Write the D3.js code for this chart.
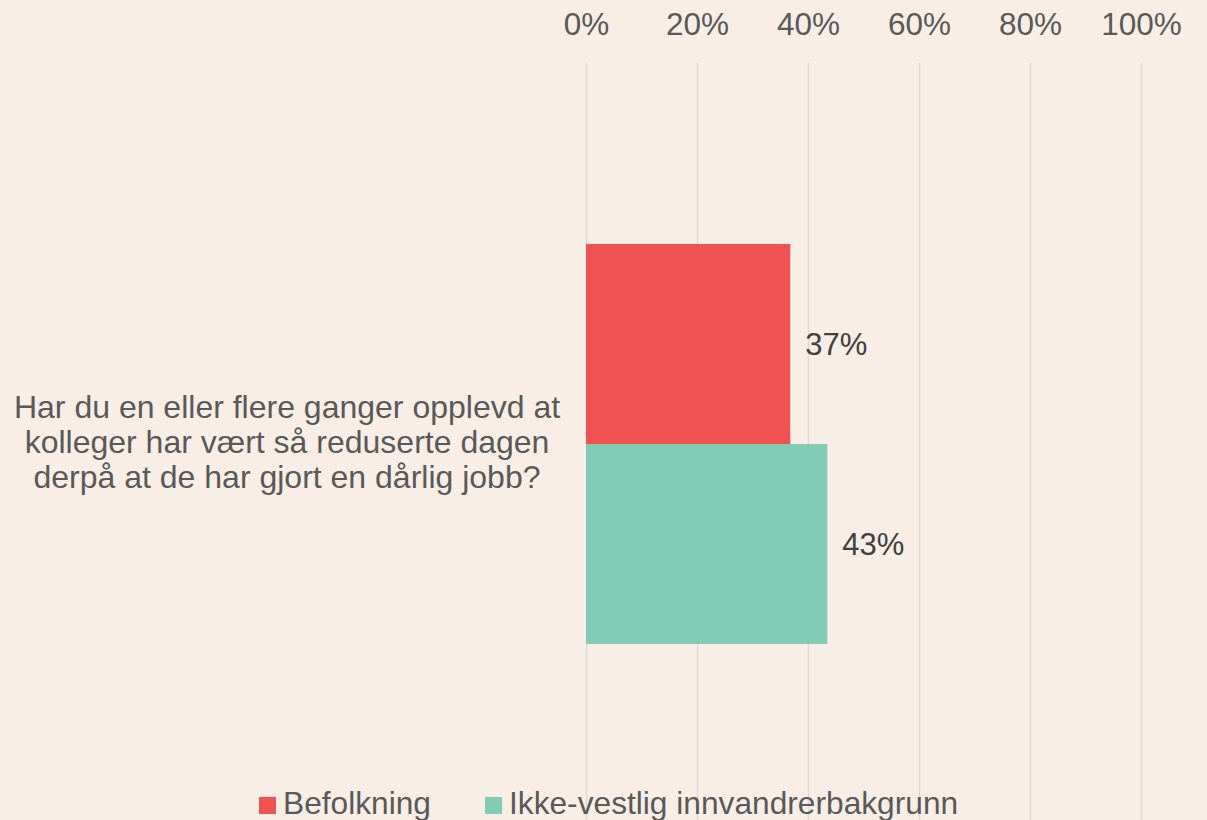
<!DOCTYPE html>
<html>
<head>
<meta charset="utf-8">
<script src="https://cdn.jsdelivr.net/npm/d3@7"></script>
<style>
  html, body { margin: 0; padding: 0; background: #f9eee6; }
  svg { display: block; font-family: "Liberation Sans", Arial, sans-serif; }
</style>
</head>
<body>
<svg id="chart" width="1207" height="820"></svg>
<script>
var categories = ['Har du en eller flere ganger opplevd at kolleger har vært så reduserte dagen derpå at de har gjort en dårlig jobb?'];
var categoryLines = [['Har du en eller flere ganger opplevd at', 'kolleger har vært så reduserte dagen', 'derpå at de har gjort en dårlig jobb?']];
var seriesNames = ['Befolkning', 'Ikke-vestlig innvandrerbakgrunn'];
var befolkning = [0.368];
var ikkeVestlig = [0.4349];
var tickValues = [0, 0.2, 0.4, 0.6, 0.8, 1];
var colors = ['#f05252', '#82ccb5'];

var svg = d3.select('#chart');
var width = 1207, height = 820;
var plotLeft = 586, plotRight = 1141, plotTop = 63, plotBottom = 825;

var x = d3.scaleLinear().domain([0, 1]).range([plotLeft, plotRight]);
var y0 = d3.scaleBand().domain(categories).range([plotTop, plotBottom]).paddingInner(0).paddingOuter(0.4525);
var y1 = d3.scaleBand().domain(seriesNames).range([0, y0.bandwidth()]);

svg.append('rect').attr('width', width).attr('height', height).attr('fill', '#f9eee6');

// gridlines
var grid = svg.append('g').attr('transform', 'translate(0,' + plotTop + ')')
  .call(d3.axisBottom(x).tickValues(tickValues).tickSize(height - plotTop).tickFormat(''));
grid.select('.domain').remove();
grid.selectAll('line').attr('stroke', '#d9d9d9').attr('stroke-width', 1.5);

// tick labels on top
var axis = svg.append('g').attr('transform', 'translate(0,' + plotTop + ')')
  .call(d3.axisTop(x).tickValues(tickValues).tickSize(0).tickPadding(28).tickFormat(d3.format('.0%')));
axis.select('.domain').remove();
axis.selectAll('text').attr('fill', '#595959').style('font-size', '31.5px').style('font-family', '"Liberation Sans", Arial, sans-serif');

var rows = categories.map(function(c, i) {
  return [{ cat: c, key: seriesNames[0], value: befolkning[i], color: colors[0] },
          { cat: c, key: seriesNames[1], value: ikkeVestlig[i], color: colors[1] }];
});

var groups = svg.selectAll('.cat').data(rows).enter().append('g')
  .attr('class', 'cat')
  .attr('transform', function(d) { return 'translate(0,' + y0(d[0].cat) + ')'; });

groups.selectAll('rect').data(function(d) { return d; }).enter().append('rect')
  .attr('x', x(0))
  .attr('y', function(d) { return y1(d.key); })
  .attr('width', function(d) { return x(d.value) - x(0); })
  .attr('height', y1.bandwidth())
  .attr('fill', function(d) { return d.color; });

groups.selectAll('.lbl').data(function(d) { return d; }).enter().append('text')
  .attr('class', 'lbl')
  .attr('x', function(d) { return x(d.value) + 15; })
  .attr('y', function(d) { return y1(d.key) + y1.bandwidth() / 2; })
  .attr('dy', '0.35em')
  .attr('fill', '#404040')
  .style('font-size', '31px')
  .text(function(d) { return d3.format('.0%')(d.value); });

// category label
categories.forEach(function(c, i) {
  var mid = y0(c) + y0.bandwidth() / 2;
  var lines = categoryLines[i];
  var t = svg.append('text').attr('text-anchor', 'middle').attr('fill', '#595959').style('font-size', '32px');
  lines.forEach(function(l, j) {
    t.append('tspan').attr('x', 287).attr('y', mid - 26 + (j * 35)).text(l);
  });
});

// legend
var legend = svg.append('g');
var legendX = [259, 485];
seriesNames.forEach(function(s, i) {
  legend.append('rect').attr('x', legendX[i]).attr('y', 797).attr('width', 17).attr('height', 17).attr('fill', colors[i]);
  legend.append('text').attr('x', legendX[i] + 24).attr('y', 814).attr('fill', '#595959')
    .style('font-size', '31.7px').text(s);
});
</script>
</body>
</html>
